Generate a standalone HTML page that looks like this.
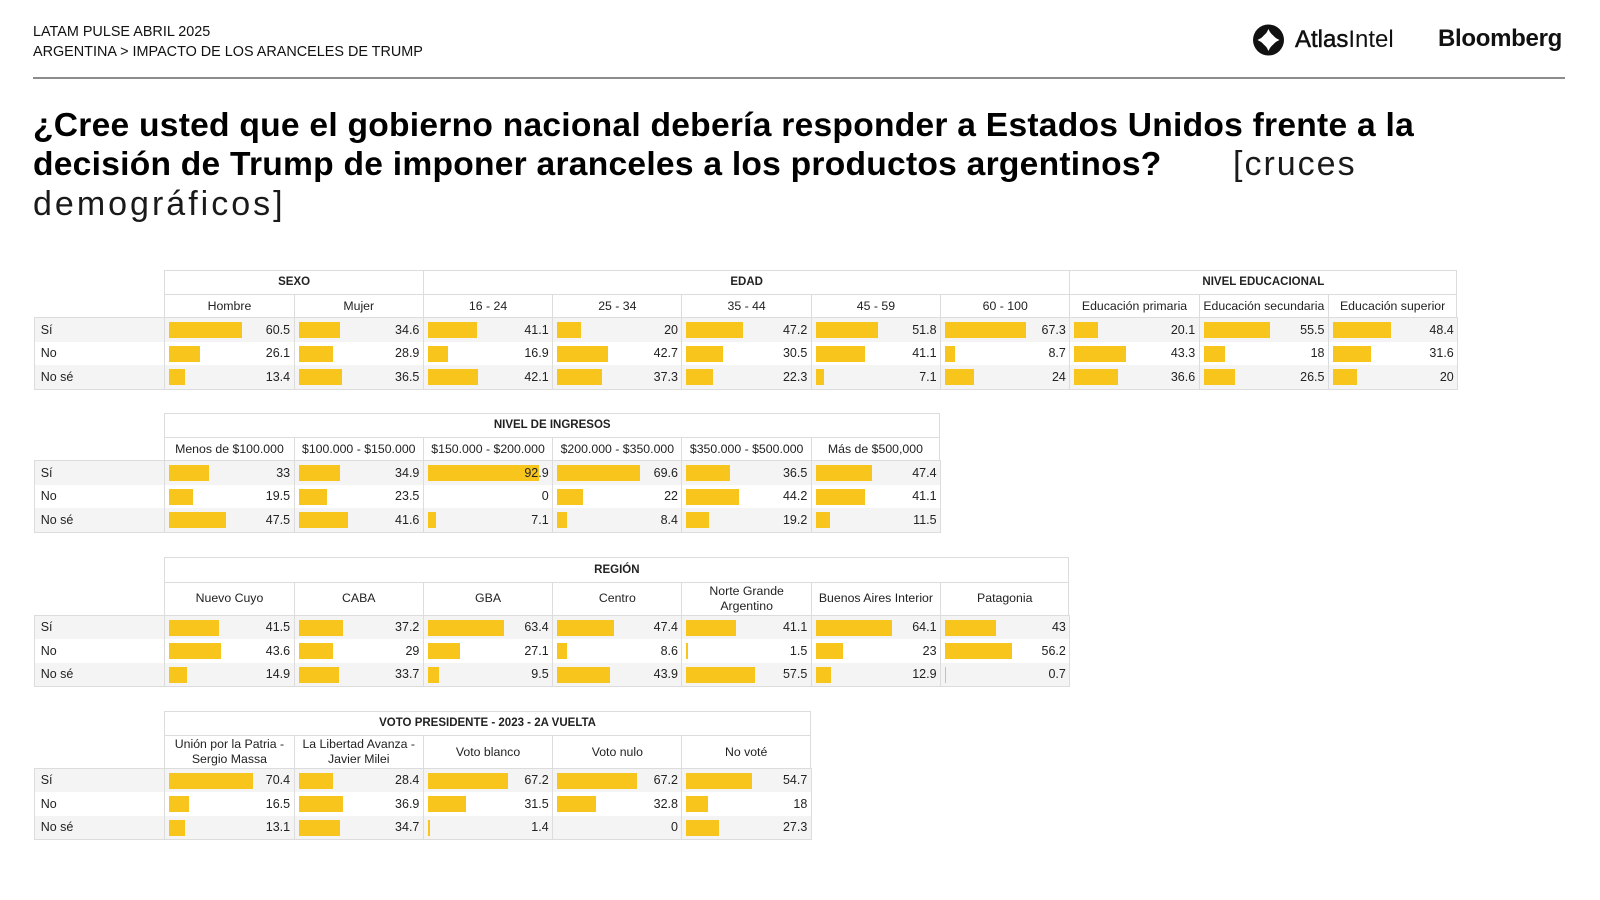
<!DOCTYPE html>
<html>
<head>
<meta charset="utf-8">
<style>
  html,body{margin:0;padding:0;}
  body{width:1600px;height:900px;background:#fff;position:relative;overflow:hidden;font-family:"Liberation Sans",Arial,sans-serif;color:#111;}
  .abs{position:absolute;white-space:nowrap;}
  .kick{font-size:14.4px;line-height:14.4px;color:#111;left:33px;}
  .ttl{font-size:33.6px;line-height:33.6px;font-weight:bold;letter-spacing:0.25px;color:#000;left:33px;}
  .lt{font-size:34px;line-height:34px;font-weight:normal;letter-spacing:2px;color:#1a1a1a;}
  .rule{position:absolute;left:33px;top:77px;width:1532px;height:2px;background:#8c8c8c;}

  .t{position:absolute;left:34px;font-size:12.5px;color:#222;}
  .r{display:flex;}
  .gr{margin-left:130.3px;display:flex;}
  .g{box-sizing:border-box;border-left:1px solid #dcdcdc;border-top:1px solid #dcdcdc;text-align:center;font-weight:bold;font-size:11.5px;height:23.5px;line-height:23px;white-space:nowrap;}
  .h{box-sizing:border-box;width:129.3px;flex:none;border-left:1px solid #dcdcdc;border-top:1px solid #dcdcdc;display:flex;align-items:center;justify-content:center;text-align:center;font-size:12.3px;line-height:14.3px;white-space:nowrap;}
  .h1{height:23.5px;}
  .h2{height:33px;}
  .e{border-right:1px solid #dcdcdc;}
  .d{border:1px solid #dcdcdc;display:inline-block;}
  .d .r{height:23.5px;}
  .d .a{background:#f4f4f4;}
  .l{width:129.3px;flex:none;box-sizing:border-box;padding-left:5.7px;line-height:23.5px;padding-top:0.5px;}
  .c{width:129.3px;flex:none;box-sizing:border-box;border-left:1px solid #dcdcdc;position:relative;}
  .c i{position:absolute;left:4px;top:4px;height:16px;width:calc(var(--v) * 1.195px);background:#F7C51C;}
  .c span{position:relative;display:block;text-align:right;padding-right:3.5px;line-height:23.5px;padding-top:0.5px;}
</style>
</head>
<body>

<div class="abs kick" style="top:24.8px;">LATAM PULSE ABRIL 2025</div>
<div class="abs kick" style="top:44.8px;">ARGENTINA &gt; IMPACTO DE LOS ARANCELES DE TRUMP</div>

<!-- logos -->
<svg class="abs" style="left:1252px;top:24px;" width="33" height="33" viewBox="0 0 33 33">
  <circle cx="16.5" cy="16" r="15.5" fill="#111"/>
  <path d="M16.5 5 Q19.5 12.5 27.5 16 Q19.5 19.5 16.5 27 Q13.5 19.5 5.5 16 Q13.5 12.5 16.5 5 Z" fill="#fff"/>
  <path d="M16.5 7.5 Q21.5 11 25 16 Q21.5 21 16.5 24.5 Q11.5 21 8 16 Q11.5 11 16.5 7.5 Z" fill="#fff"/>
</svg>
<div class="abs" style="left:1295px;top:27.7px;font-size:24px;line-height:24px;color:#111;"><span style="-webkit-text-stroke:0.5px #111;">Atlas</span>Intel</div>
<div class="abs" style="left:1438px;top:26.7px;font-size:24px;line-height:24px;font-weight:bold;letter-spacing:-0.3px;color:#111;">Bloomberg</div>

<div class="rule"></div>

<div class="abs ttl" style="top:108.6px;">¿Cree usted que el gobierno nacional debería responder a Estados Unidos frente a la</div>
<div class="abs ttl" style="top:147.6px;">decisión de Trump de imponer aranceles a los productos argentinos?</div>
<div class="abs lt" style="left:1233px;top:147.2px;">[cruces</div>
<div class="abs lt" style="left:33px;top:187px;letter-spacing:3px;">demográficos]</div>

<!-- TABLE 1 -->
<div class="t" style="top:270px;">
  <div class="gr">
    <div class="g" style="width:258.6px;">SEXO</div>
    <div class="g" style="width:646.5px;">EDAD</div>
    <div class="g e" style="width:387.9px;">NIVEL EDUCACIONAL</div>
  </div>
  <div class="gr">
    <div class="h h1">Hombre</div>
    <div class="h h1">Mujer</div>
    <div class="h h1">16 - 24</div>
    <div class="h h1">25 - 34</div>
    <div class="h h1">35 - 44</div>
    <div class="h h1">45 - 59</div>
    <div class="h h1">60 - 100</div>
    <div class="h h1">Educación primaria</div>
    <div class="h h1">Educación secundaria</div>
    <div class="h h1 e">Educación superior</div>
  </div>
  <div class="d">
    <div class="r a"><div class="l">Sí</div>
      <div class="c"><i style="--v:60.5"></i><span>60.5</span></div>
      <div class="c"><i style="--v:34.6"></i><span>34.6</span></div>
      <div class="c"><i style="--v:41.1"></i><span>41.1</span></div>
      <div class="c"><i style="--v:20"></i><span>20</span></div>
      <div class="c"><i style="--v:47.2"></i><span>47.2</span></div>
      <div class="c"><i style="--v:51.8"></i><span>51.8</span></div>
      <div class="c"><i style="--v:67.3"></i><span>67.3</span></div>
      <div class="c"><i style="--v:20.1"></i><span>20.1</span></div>
      <div class="c"><i style="--v:55.5"></i><span>55.5</span></div>
      <div class="c"><i style="--v:48.4"></i><span>48.4</span></div>
    </div>
    <div class="r"><div class="l">No</div>
      <div class="c"><i style="--v:26.1"></i><span>26.1</span></div>
      <div class="c"><i style="--v:28.9"></i><span>28.9</span></div>
      <div class="c"><i style="--v:16.9"></i><span>16.9</span></div>
      <div class="c"><i style="--v:42.7"></i><span>42.7</span></div>
      <div class="c"><i style="--v:30.5"></i><span>30.5</span></div>
      <div class="c"><i style="--v:41.1"></i><span>41.1</span></div>
      <div class="c"><i style="--v:8.7"></i><span>8.7</span></div>
      <div class="c"><i style="--v:43.3"></i><span>43.3</span></div>
      <div class="c"><i style="--v:18"></i><span>18</span></div>
      <div class="c"><i style="--v:31.6"></i><span>31.6</span></div>
    </div>
    <div class="r a"><div class="l">No sé</div>
      <div class="c"><i style="--v:13.4"></i><span>13.4</span></div>
      <div class="c"><i style="--v:36.5"></i><span>36.5</span></div>
      <div class="c"><i style="--v:42.1"></i><span>42.1</span></div>
      <div class="c"><i style="--v:37.3"></i><span>37.3</span></div>
      <div class="c"><i style="--v:22.3"></i><span>22.3</span></div>
      <div class="c"><i style="--v:7.1"></i><span>7.1</span></div>
      <div class="c"><i style="--v:24"></i><span>24</span></div>
      <div class="c"><i style="--v:36.6"></i><span>36.6</span></div>
      <div class="c"><i style="--v:26.5"></i><span>26.5</span></div>
      <div class="c"><i style="--v:20"></i><span>20</span></div>
    </div>
  </div>
</div>

<!-- TABLE 2 -->
<div class="t" style="top:413.3px;">
  <div class="gr">
    <div class="g e" style="width:775.8px;">NIVEL DE INGRESOS</div>
  </div>
  <div class="gr">
    <div class="h h1">Menos de $100.000</div>
    <div class="h h1">$100.000 - $150.000</div>
    <div class="h h1">$150.000 - $200.000</div>
    <div class="h h1">$200.000 - $350.000</div>
    <div class="h h1">$350.000 - $500.000</div>
    <div class="h h1 e">Más de $500,000</div>
  </div>
  <div class="d">
    <div class="r a"><div class="l">Sí</div>
      <div class="c"><i style="--v:33"></i><span>33</span></div>
      <div class="c"><i style="--v:34.9"></i><span>34.9</span></div>
      <div class="c"><i style="--v:92.9"></i><span>92.9</span></div>
      <div class="c"><i style="--v:69.6"></i><span>69.6</span></div>
      <div class="c"><i style="--v:36.5"></i><span>36.5</span></div>
      <div class="c"><i style="--v:47.4"></i><span>47.4</span></div>
    </div>
    <div class="r"><div class="l">No</div>
      <div class="c"><i style="--v:19.5"></i><span>19.5</span></div>
      <div class="c"><i style="--v:23.5"></i><span>23.5</span></div>
      <div class="c"><i style="--v:0"></i><span>0</span></div>
      <div class="c"><i style="--v:22"></i><span>22</span></div>
      <div class="c"><i style="--v:44.2"></i><span>44.2</span></div>
      <div class="c"><i style="--v:41.1"></i><span>41.1</span></div>
    </div>
    <div class="r a"><div class="l">No sé</div>
      <div class="c"><i style="--v:47.5"></i><span>47.5</span></div>
      <div class="c"><i style="--v:41.6"></i><span>41.6</span></div>
      <div class="c"><i style="--v:7.1"></i><span>7.1</span></div>
      <div class="c"><i style="--v:8.4"></i><span>8.4</span></div>
      <div class="c"><i style="--v:19.2"></i><span>19.2</span></div>
      <div class="c"><i style="--v:11.5"></i><span>11.5</span></div>
    </div>
  </div>
</div>

<!-- TABLE 3 -->
<div class="t" style="top:557.1px;">
  <div class="gr">
    <div class="g e" style="width:905.1px;height:24.5px;line-height:24px;">REGIÓN</div>
  </div>
  <div class="gr">
    <div class="h h2">Nuevo Cuyo</div>
    <div class="h h2">CABA</div>
    <div class="h h2">GBA</div>
    <div class="h h2">Centro</div>
    <div class="h h2">Norte Grande<br>Argentino</div>
    <div class="h h2">Buenos Aires Interior</div>
    <div class="h h2 e">Patagonia</div>
  </div>
  <div class="d">
    <div class="r a"><div class="l">Sí</div>
      <div class="c"><i style="--v:41.5"></i><span>41.5</span></div>
      <div class="c"><i style="--v:37.2"></i><span>37.2</span></div>
      <div class="c"><i style="--v:63.4"></i><span>63.4</span></div>
      <div class="c"><i style="--v:47.4"></i><span>47.4</span></div>
      <div class="c"><i style="--v:41.1"></i><span>41.1</span></div>
      <div class="c"><i style="--v:64.1"></i><span>64.1</span></div>
      <div class="c"><i style="--v:43"></i><span>43</span></div>
    </div>
    <div class="r"><div class="l">No</div>
      <div class="c"><i style="--v:43.6"></i><span>43.6</span></div>
      <div class="c"><i style="--v:29"></i><span>29</span></div>
      <div class="c"><i style="--v:27.1"></i><span>27.1</span></div>
      <div class="c"><i style="--v:8.6"></i><span>8.6</span></div>
      <div class="c"><i style="--v:1.5"></i><span>1.5</span></div>
      <div class="c"><i style="--v:23"></i><span>23</span></div>
      <div class="c"><i style="--v:56.2"></i><span>56.2</span></div>
    </div>
    <div class="r a"><div class="l">No sé</div>
      <div class="c"><i style="--v:14.9"></i><span>14.9</span></div>
      <div class="c"><i style="--v:33.7"></i><span>33.7</span></div>
      <div class="c"><i style="--v:9.5"></i><span>9.5</span></div>
      <div class="c"><i style="--v:43.9"></i><span>43.9</span></div>
      <div class="c"><i style="--v:57.5"></i><span>57.5</span></div>
      <div class="c"><i style="--v:12.9"></i><span>12.9</span></div>
      <div class="c"><i style="--v:0.7"></i><span>0.7</span></div>
    </div>
  </div>
</div>

<!-- TABLE 4 -->
<div class="t" style="top:711.2px;">
  <div class="gr">
    <div class="g e" style="width:646.5px;">VOTO PRESIDENTE - 2023 - 2A VUELTA</div>
  </div>
  <div class="gr">
    <div class="h h2">Unión por la Patria -<br>Sergio Massa</div>
    <div class="h h2">La Libertad Avanza -<br>Javier Milei</div>
    <div class="h h2">Voto blanco</div>
    <div class="h h2">Voto nulo</div>
    <div class="h h2 e">No voté</div>
  </div>
  <div class="d">
    <div class="r a"><div class="l">Sí</div>
      <div class="c"><i style="--v:70.4"></i><span>70.4</span></div>
      <div class="c"><i style="--v:28.4"></i><span>28.4</span></div>
      <div class="c"><i style="--v:67.2"></i><span>67.2</span></div>
      <div class="c"><i style="--v:67.2"></i><span>67.2</span></div>
      <div class="c"><i style="--v:54.7"></i><span>54.7</span></div>
    </div>
    <div class="r"><div class="l">No</div>
      <div class="c"><i style="--v:16.5"></i><span>16.5</span></div>
      <div class="c"><i style="--v:36.9"></i><span>36.9</span></div>
      <div class="c"><i style="--v:31.5"></i><span>31.5</span></div>
      <div class="c"><i style="--v:32.8"></i><span>32.8</span></div>
      <div class="c"><i style="--v:18"></i><span>18</span></div>
    </div>
    <div class="r a"><div class="l">No sé</div>
      <div class="c"><i style="--v:13.1"></i><span>13.1</span></div>
      <div class="c"><i style="--v:34.7"></i><span>34.7</span></div>
      <div class="c"><i style="--v:1.4"></i><span>1.4</span></div>
      <div class="c"><i style="--v:0"></i><span>0</span></div>
      <div class="c"><i style="--v:27.3"></i><span>27.3</span></div>
    </div>
  </div>
</div>

</body>
</html>
